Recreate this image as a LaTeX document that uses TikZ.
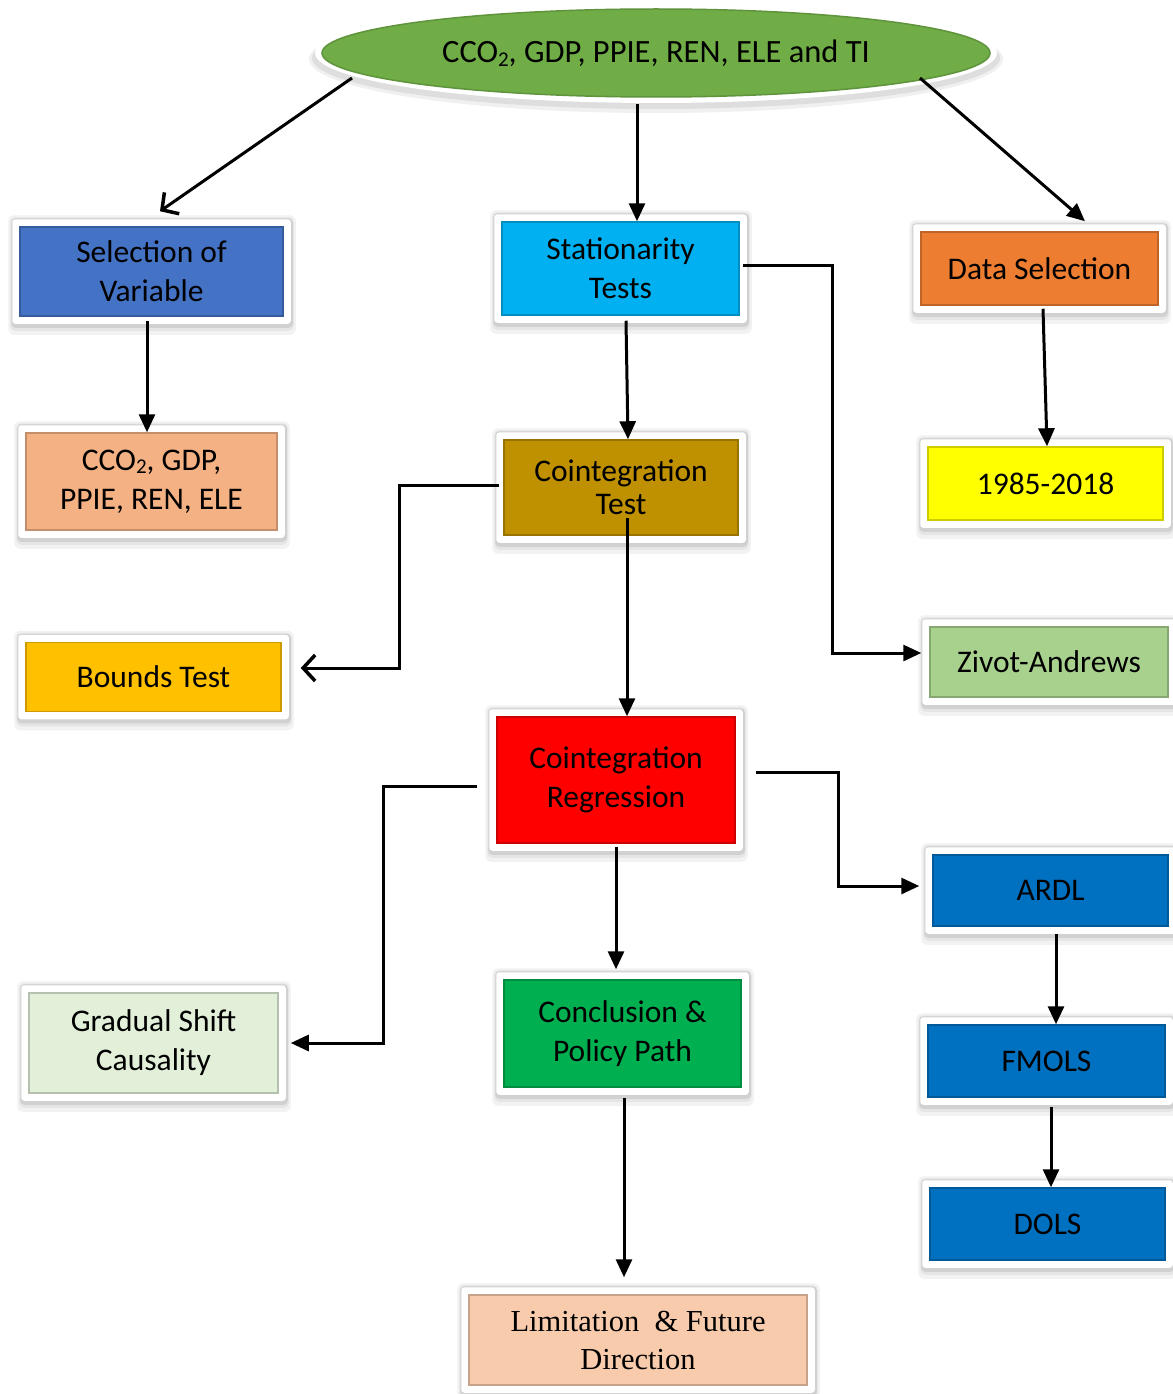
\documentclass[tikz,border=0pt]{standalone}
\usepackage{fontspec}
\setmainfont{Carlito}
\newfontfamily\tnrfont{Liberation Serif}
\usetikzlibrary{arrows.meta,shapes.geometric,backgrounds}
\definecolor{cTop}{RGB}{112,173,71}
\definecolor{cSel}{RGB}{68,114,196}
\definecolor{cStat}{RGB}{0,176,240}
\definecolor{cData}{RGB}{237,125,49}
\definecolor{cVars}{RGB}{244,177,131}
\definecolor{cCtest}{RGB}{191,144,0}
\definecolor{cYears}{RGB}{255,255,0}
\definecolor{cBounds}{RGB}{255,192,0}
\definecolor{cZivot}{RGB}{169,209,142}
\definecolor{cCreg}{RGB}{255,0,0}
\definecolor{cBlue}{RGB}{0,112,192}
\definecolor{cGrad}{RGB}{226,240,217}
\definecolor{cConcl}{RGB}{0,176,80}
\definecolor{cLim}{RGB}{248,203,173}
\newcommand{\myTwo}{\raisebox{-0.25ex}{\fontsize{21}{21}\selectfont 2}}
\tikzset{
  box/.style={rectangle, fill=#1, draw=#1!80!black, line width=1.5pt, inner sep=0pt,
    align=center, text=black, font=\fontsize{31.5}{39}\selectfont},
  arr/.style={line width=3pt, -{Triangle[length=18pt,width=16pt]}},
  oarr/.style={line width=3pt, -{Straight Barb[length=12pt,width=26pt,line width=3.5pt]}},
}
\begin{document}
\begin{tikzpicture}[x=1pt,y=1pt]
\useasboundingbox (0,0) rectangle (1172,-1394);

\node[ellipse, fill=cTop, draw=cTop!85!black, line width=1.5pt, inner sep=0pt,
  minimum width=668pt, minimum height=88pt, font=\fontsize{32.5}{39}\selectfont]
  (top) at (656,-53) {CCO\myTwo, GDP, PPIE, REN, ELE and TI};

\node[box=cSel, minimum width=263pt, minimum height=89pt] (sel) at (151.5,-271.5) {Selection of\\Variable};
\node[box=cStat, minimum width=237pt, minimum height=93pt] (stat) at (620.5,-268.5) {Stationarity\\Tests};
\node[box=cData, minimum width=237pt, minimum height=73pt] (data) at (1039.5,-268.5) {Data Selection};
\node[box=cVars, minimum width=251pt, minimum height=97pt] (vars) at (151.5,-481.5) {CCO\myTwo, GDP,\\PPIE, REN, ELE};
\node[box=cCtest, minimum width=234pt, minimum height=95pt] (ctest) at (621,-487.5) {Cointegration\\[-6pt]Test};
\node[box=cYears, minimum width=235pt, minimum height=73pt] (years) at (1045.5,-483.5) {1985-2018};
\node[box=cBounds, minimum width=255pt, minimum height=69pt] (bounds) at (153.5,-677) {Bounds Test};
\node[box=cZivot, minimum width=238pt, minimum height=70pt] (zivot) at (1049,-662) {Zivot-Andrews};
\node[box=cCreg, minimum width=238pt, minimum height=126pt] (creg) at (616,-780) {Cointegration\\Regression};
\node[box=cBlue, minimum width=235pt, minimum height=71pt] (ardl) at (1050.5,-890.5) {ARDL};
\node[box=cGrad, minimum width=249pt, minimum height=100pt] (grad) at (153.5,-1043) {Gradual Shift\\Causality};
\node[box=cConcl, minimum width=237pt, minimum height=107pt] (concl) at (622.5,-1033.5) {Conclusion \&\\Policy Path};
\node[box=cBlue, minimum width=237pt, minimum height=72pt] (fmols) at (1046.5,-1061) {FMOLS};
\node[box=cBlue, minimum width=235pt, minimum height=72pt] (dols) at (1047.5,-1224) {DOLS};
\node[box=cLim, minimum width=338pt, minimum height=90pt, font=\tnrfont\fontsize{30.5}{38}\selectfont] (lim) at (638,-1340) {Limitation\ \ \& Future\\Direction};

\begin{scope}[on background layer]
  \fill[white] (0,0) rectangle (1172,-1394);
  \fill[black!6] ([yshift=-6]top.center) ellipse [x radius=347, y radius=54];
  \fill[black!13] ([yshift=-5]top.center) ellipse [x radius=344, y radius=51];
  \fill[white] (top.center) ellipse [x radius=341, y radius=50];
  \foreach \n in {sel,stat,data,vars,ctest,years,bounds,zivot,creg,ardl,grad,concl,fmols,dols,lim}{
    \fill[black!5, rounded corners=6pt] ([shift={(-11,11)}]\n.north west) rectangle ([shift={(12,-18)}]\n.south east);
    \fill[black!10, rounded corners=5pt] ([shift={(-9,9)}]\n.north west) rectangle ([shift={(10,-14)}]\n.south east);
    \fill[black!18, rounded corners=4pt] ([shift={(-8,8)}]\n.north west) rectangle ([shift={(9,-11)}]\n.south east);
    \fill[white, rounded corners=3pt] ([shift={(-7,7)}]\n.north west) rectangle ([shift={(7,-7)}]\n.south east);
  }
\end{scope}

% connectors
\draw[oarr] ([shift={(-304,-25)}]top.center) -- ([shift={(8.5,15)}]sel.north);
\draw[arr] ([shift={(-19,-6)}]top.south) -- ([xshift=16.5]stat.north);
\draw[arr] ([shift={(264,-25)}]top.center) -- ([shift={(45.5,10)}]data.north);
\draw[arr] ([shift={(-4.5,-4)}]sel.south) -- ([xshift=-4.5]vars.north);
\draw[arr] ([shift={(5.5,-5)}]stat.south) -- ([xshift=7]ctest.north);
\draw[arr] ([shift={(3.5,-3)}]data.south) -- ([xshift=1.5]years.north);
\draw[arr] ([shift={(3,3.5)}]stat.east) -- ++(90,0) |- ([shift={(-8,9)}]zivot.west);
\draw[oarr] ([shift={(-4,2.5)}]ctest.west) -- ++(-100,0) |- ([shift={(19,9)}]bounds.east);
\draw[arr] ([shift={(6,-30.5)}]ctest.center) -- ([xshift=11]creg.north);
\draw[arr] ([shift={(-19,-6)}]creg.west) -- ++(-94,0) |- ([xshift=12]grad.east);
\draw[arr] ([shift={(20,8)}]creg.east) -- ++(83,0) |- ([shift={(-13,4.5)}]ardl.west);
\draw[arr] ([yshift=-3]creg.south) -- ([shift={(-6.5,10)}]concl.north);
\draw[arr] ([shift={(5.5,-7)}]ardl.south) -- ([xshift=9.5]fmols.north);
\draw[arr] ([shift={(4.5,-9)}]fmols.south) -- ([xshift=3.5]dols.north);
\draw[arr] ([shift={(1.5,-10)}]concl.south) -- ([shift={(-14,17)}]lim.north);
\end{tikzpicture}
\end{document}
